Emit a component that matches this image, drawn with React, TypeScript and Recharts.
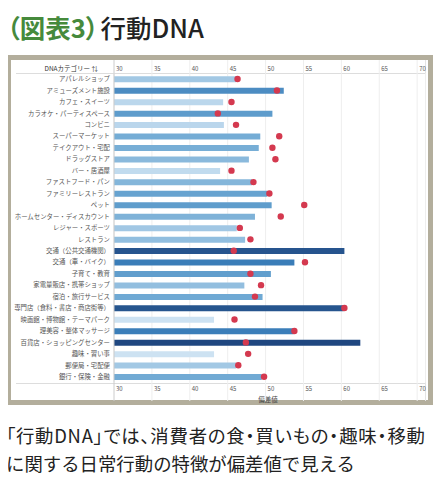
import { ComposedChart, Bar, Line, XAxis, YAxis, CartesianGrid, Cell } from 'recharts';

const categories = [
  'アパレルショップ',
  'アミューズメント施設',
  'カフェ・スイーツ',
  'カラオケ・パーティスペース',
  'コンビニ',
  'スーパーマーケット',
  'テイクアウト・宅配',
  'ドラッグストア',
  'バー・居酒屋',
  'ファストフード・パン',
  'ファミリーレストラン',
  'ペット',
  'ホームセンター・ディスカウント',
  'レジャー・スポーツ',
  'レストラン',
  '交通（公共交通機関）',
  '交通（車・バイク）',
  '子育て・教育',
  '家電量販店・携帯ショップ',
  '宿泊・旅行サービス',
  '専門店（食料・書店・商店街等）',
  '映画館・博物館・テーマパーク',
  '理美容・整体マッサージ',
  '百貨店・ショッピングセンター',
  '趣味・習い事',
  '郵便局・宅配便',
  '銀行・保険・金融',
];

const barValues = [
  46.1, 52.4, 44.4, 50.9, 44.5, 49.3, 49.1, 47.8, 44.0, 48.2, 50.2, 50.8, 48.6, 46.2,
  47.3, 60.4, 53.8, 50.7, 47.2, 49.6, 60.3, 43.2, 53.7, 62.5, 43.2, 46.1, 49.5,
];

const dotValues = [
  46.3, 51.5, 45.5, 43.7, 46.1, 51.8, 50.9, 51.3, 45.5, 48.4, 50.5, 55.1, 52.0, 46.6,
  48.0, 45.8, 55.2, 48.0, 49.4, 48.6, 60.4, 45.9, 53.8, 47.4, 47.7, 46.4, 49.8,
];

const xTicks = [30, 35, 40, 45, 50, 55, 60, 65, 70];

const data = categories.map((category, i) => ({
  category,
  bar: barValues[i],
  dot: dotValues[i],
}));

// sequential blue, darker for higher values
const stops = [
  { t: 0, c: [205, 226, 242] },
  { t: 0.35, c: [106, 166, 210] },
  { t: 0.55, c: [58, 125, 184] },
  { t: 1, c: [31, 71, 128] },
];
const barColor = (v: number) => {
  const min = Math.min(...barValues);
  const max = Math.max(...barValues);
  const t = (v - min) / (max - min);
  for (let i = 1; i < stops.length; i++) {
    if (t <= stops[i].t) {
      const a = stops[i - 1];
      const b = stops[i];
      const k = (t - a.t) / (b.t - a.t);
      const c = a.c.map((x, j) => Math.round(x + (b.c[j] - x) * k));
      return `rgb(${c[0]},${c[1]},${c[2]})`;
    }
  }
  return 'rgb(31,71,128)';
};

const PLOT_TOP = 73.3;
const PLOT_BOTTOM = 382.5;

const TopTick = (props: any) => {
  const { x, payload } = props;
  return (
    <g>
      <line x1={x} x2={x} y1={60} y2={PLOT_TOP} stroke={payload.value === 30 ? '#cccccc' : '#eeeeee'} />
      <text x={x + 2} y={70.5} fontSize={6} fill="#555">
        {payload.value}
      </text>
    </g>
  );
};

const BottomTick = (props: any) => {
  const { x, payload } = props;
  return (
    <g>
      <line x1={x} x2={x} y1={PLOT_BOTTOM} y2={401} stroke={payload.value === 30 ? '#cccccc' : '#eeeeee'} />
      <text x={x + 2} y={390.5} fontSize={6} fill="#555">
        {payload.value}
      </text>
    </g>
  );
};

const CatTick = (props: any) => {
  const { x, y, payload } = props;
  return (
    <text x={x} y={y} dy={2.2} textAnchor="end" fontSize={6.4} fill="#555">
      {payload.value}
    </text>
  );
};

const App = () => {
  return (
    <div
      style={{
        position: 'relative',
        width: 444,
        height: 486,
        margin: -8,
        background: '#fff',
        overflow: 'hidden',
        fontFamily: '"Noto Sans CJK JP", sans-serif',
      }}
    >
      <div style={{ position: 'absolute', left: 7, top: 14, fontSize: 25.5, lineHeight: '26px', fontWeight: 700, whiteSpace: 'nowrap' }}>
        <span style={{ color: '#468a3c', fontFeatureSettings: '"palt"' }}>（図表3）</span>
        <span style={{ color: '#222', fontWeight: 500, marginLeft: 2 }}>行動DNA</span>
      </div>

      <div
        style={{
          position: 'absolute',
          left: 6,
          top: 55,
          width: 417,
          height: 340,
          border: '5px solid #b3ae9c',
          background: '#fff',
        }}
      />
      <div style={{ position: 'absolute', left: 16, top: 73, width: 410, height: 1, background: '#dddddd' }} />
      <div style={{ position: 'absolute', left: 16, top: 382.5, width: 410, height: 1, background: '#dddddd' }} />
      <div style={{ position: 'absolute', left: 425, top: 60, width: 1, height: 341, background: '#e4e4e4' }} />
      <div
        style={{
          position: 'absolute',
          left: 30,
          top: 64,
          width: 68,
          textAlign: 'right',
          fontSize: 6.5,
          lineHeight: '8px',
          color: '#333',
          whiteSpace: 'nowrap',
        }}
      >
        DNAカテゴリー ⇅
      </div>
      <div style={{ position: 'absolute', left: 248, top: 395, width: 40, textAlign: 'center', fontSize: 6.5, lineHeight: '8px', color: '#444' }}>
        偏差値
      </div>

      <div style={{ position: 'absolute', left: 0, top: 0 }}>
        <ComposedChart
          layout="vertical"
          width={444}
          height={486}
          data={data}
          margin={{ top: 53.3, right: 18.5, bottom: 83.5, left: 14 }}
        >
          <CartesianGrid xAxisId="bottom" horizontal={false} stroke="#eeeeee" />
          <XAxis
            xAxisId="top"
            orientation="top"
            type="number"
            domain={[30, 71.1]}
            ticks={xTicks}
            allowDataOverflow
            height={20}
            axisLine={false}
            tickLine={false}
            tick={<TopTick />}
          />
          <XAxis
            xAxisId="bottom"
            orientation="bottom"
            type="number"
            domain={[30, 71.1]}
            ticks={xTicks}
            allowDataOverflow
            height={20}
            axisLine={false}
            tickLine={false}
            tick={<BottomTick />}
          />
          <YAxis
            type="category"
            dataKey="category"
            width={100}
            interval={0}
            tickSize={0}
            tickMargin={4}
            axisLine={{ stroke: '#cccccc' }}
            tickLine={false}
            tick={<CatTick />}
          />
          <Bar xAxisId="bottom" dataKey="bar" barSize={6} isAnimationActive={false}>
            {data.map((d, i) => (
              <Cell key={i} fill={barColor(d.bar)} />
            ))}
          </Bar>
          <Line
            xAxisId="top"
            dataKey="dot"
            stroke="none"
            dot={{ r: 3.2, fill: '#d4394f', stroke: 'none' }}
            activeDot={false}
            isAnimationActive={false}
          />
        </ComposedChart>
      </div>

      <div
        style={{
          position: 'absolute',
          left: 6,
          top: 421,
          fontSize: 18.4,
          lineHeight: '28px',
          color: '#222',
          whiteSpace: 'nowrap',
        }}
      >
        <div style={{ fontFeatureSettings: '"palt"', letterSpacing: 0.75 }}>「行動DNA」では、消費者の食・買いもの・趣味・移動</div>
        <div>に関する日常行動の特徴が偏差値で見える</div>
      </div>
    </div>
  );
};

export default App;
